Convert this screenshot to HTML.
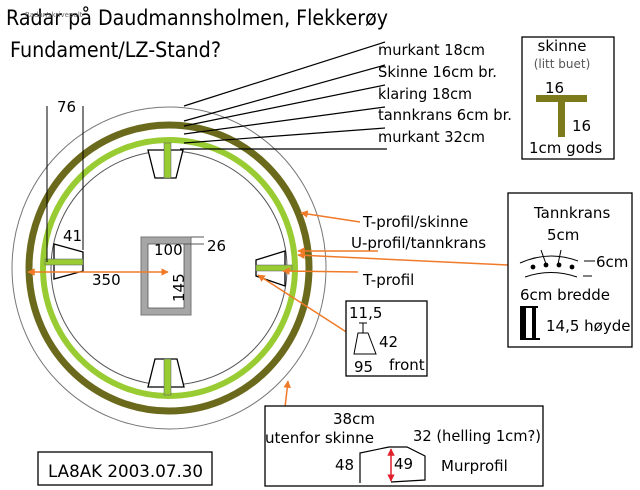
<!DOCTYPE html>
<html><head><meta charset="utf-8"><style>
html,body{margin:0;padding:0;background:#fff;}
svg{display:block;}
text{font-family:"DejaVu Sans","Liberation Sans",sans-serif;fill:#000;}
</style></head><body>
<svg width="640" height="490" viewBox="0 0 640 490" xmlns="http://www.w3.org/2000/svg">
<defs>
<marker id="ah" viewBox="0 0 10 10" refX="9" refY="5" markerWidth="5" markerHeight="5" orient="auto-start-reverse"><path d="M0,0 L10,5 L0,10z" fill="#f07a28"/></marker>
<marker id="rh" viewBox="0 0 10 10" refX="9" refY="5" markerWidth="5" markerHeight="5" orient="auto-start-reverse"><path d="M0,0 L10,5 L0,10z" fill="#e0202a"/></marker>
</defs>
<text x="6" y="25" font-size="21" textLength="382" lengthAdjust="spacingAndGlyphs">Radar på Daudmannsholmen, Flekkerøy</text>
<text x="25" y="17" font-size="7" style="fill:#666">Radar/skrivepult</text>
<text x="10" y="57" font-size="21" textLength="211" lengthAdjust="spacingAndGlyphs">Fundament/LZ-Stand?</text>

<ellipse cx="169" cy="268" rx="157" ry="161" fill="none" stroke="#777" stroke-width="1"/>
<ellipse cx="169" cy="268" rx="140" ry="143" fill="none" stroke="#6b6a1c" stroke-width="7"/>
<ellipse cx="169" cy="268" rx="126" ry="128" fill="none" stroke="#99cc33" stroke-width="6"/>
<ellipse cx="169" cy="268" rx="118" ry="117" fill="none" stroke="#555" stroke-width="1"/>

<polygon points="148,150 183,150 176,178 155,178" fill="#fff" stroke="#000" stroke-width="1.3"/>
<rect x="164" y="143" width="7" height="35" fill="#99cc33" stroke="#556" stroke-width="0.5"/>
<polygon points="155,359 177,359 184,387 148,387" fill="#fff" stroke="#000" stroke-width="1.3"/>
<rect x="164" y="359" width="7" height="36" fill="#99cc33" stroke="#556" stroke-width="0.5"/>
<polygon points="54,244 83,252 83,271 54,279" fill="#fff" stroke="#000" stroke-width="1.3"/>
<rect x="45" y="259" width="38" height="6" fill="#99cc33" stroke="#556" stroke-width="0.5"/>
<polygon points="256,260 285,251 285,286 256,276" fill="#fff" stroke="#000" stroke-width="1.3"/>
<rect x="256" y="265" width="36" height="6" fill="#99cc33" stroke="#556" stroke-width="0.5"/>

<rect x="141" y="237" width="50" height="78" fill="#a6a6a6" stroke="#777"/>
<rect x="148" y="244" width="36" height="64" fill="#fff" stroke="#555" stroke-width="0.8"/>
<line x1="191" y1="237" x2="204" y2="237" stroke="#555"/>
<line x1="184" y1="244" x2="204" y2="244" stroke="#555"/>
<text x="207" y="251" font-size="15">26</text>
<text x="154" y="255" font-size="15">100</text>
<text x="0" y="0" font-size="15" transform="translate(184,302) rotate(-90)">145</text>

<line x1="47" y1="106" x2="47" y2="262" stroke="#000"/>
<line x1="83" y1="106" x2="83" y2="250" stroke="#000"/>
<text x="57" y="112" font-size="15">76</text>
<text x="63" y="241" font-size="15">41</text>
<line x1="28" y1="272" x2="168" y2="272" stroke="#f07a28" stroke-width="1.5" marker-start="url(#ah)" marker-end="url(#ah)"/>
<text x="92" y="285" font-size="15">350</text>

<g stroke="#000" stroke-width="1.2">
<line x1="385" y1="42" x2="184" y2="106"/>
<line x1="385" y1="65" x2="184" y2="121"/>
<line x1="385" y1="85" x2="184" y2="126"/>
<line x1="385" y1="107" x2="184" y2="134"/>
<line x1="385" y1="128" x2="184" y2="143"/>
<line x1="180" y1="149" x2="387" y2="149"/>
</g>
<g font-size="15">
<text x="378" y="55" textLength="107" lengthAdjust="spacingAndGlyphs">murkant 18cm</text>
<text x="378" y="77" textLength="119" lengthAdjust="spacingAndGlyphs">Skinne 16cm br.</text>
<text x="378" y="99" textLength="94" lengthAdjust="spacingAndGlyphs">klaring 18cm</text>
<text x="378" y="120" textLength="134" lengthAdjust="spacingAndGlyphs">tannkrans 6cm br.</text>
<text x="378" y="142" textLength="107" lengthAdjust="spacingAndGlyphs">murkant 32cm</text>
</g>

<rect x="522" y="37" width="92" height="122" fill="#fff" stroke="#000" stroke-width="1.3"/>
<text x="562" y="51" font-size="15" text-anchor="middle">skinne</text>
<text x="562" y="68" font-size="12" text-anchor="middle" style="fill:#555">(litt buet)</text>
<rect x="536" y="95" width="51" height="7" fill="#7d7a1c"/>
<rect x="558" y="102" width="7" height="35" fill="#7d7a1c"/>
<text x="545" y="93" font-size="15">16</text>
<text x="572" y="131" font-size="15">16</text>
<text x="529" y="153" font-size="15">1cm gods</text>

<g font-size="15">
<text x="363" y="227">T-profil/skinne</text>
<text x="351" y="248">U-profil/tannkrans</text>
<text x="363" y="285">T-profil</text>
</g>
<g stroke="#f07a28" stroke-width="1.5" fill="none">
<line x1="360" y1="222" x2="301" y2="213" marker-end="url(#ah)"/>
<line x1="378" y1="251" x2="298" y2="251" marker-end="url(#ah)"/>
<line x1="508" y1="265" x2="298" y2="255" marker-end="url(#ah)"/>
<line x1="358" y1="272" x2="283" y2="271" marker-end="url(#ah)"/>
<line x1="365" y1="344" x2="258" y2="275" marker-end="url(#ah)"/>
<line x1="283" y1="425" x2="288" y2="381" marker-end="url(#ah)"/>
</g>

<rect x="508" y="193" width="124" height="154" fill="#fff" stroke="#000" stroke-width="1.3"/>
<text x="534" y="218" font-size="15">Tannkrans</text>
<text x="547" y="240" font-size="15">5cm</text>
<path d="M520,263 Q549,250 578,261" fill="none" stroke="#000"/>
<path d="M525,277 Q551,268 577,277" fill="none" stroke="#000"/>
<g fill="#000"><circle cx="533" cy="267" r="2.4"/><circle cx="546" cy="265" r="2.4"/><circle cx="559" cy="265" r="2.4"/><circle cx="572" cy="267" r="2.4"/></g>
<line x1="541" y1="250" x2="546" y2="264" stroke="#000"/>
<line x1="561" y1="250" x2="558" y2="264" stroke="#000"/>
<line x1="584" y1="261" x2="595" y2="261" stroke="#000"/>
<line x1="583" y1="276" x2="592" y2="276" stroke="#000"/>
<text x="596" y="267" font-size="15">6cm</text>
<text x="520" y="300" font-size="15">6cm bredde</text>
<rect x="520" y="306" width="6" height="34" fill="#000"/>
<rect x="532" y="306" width="4" height="34" fill="#000"/>
<line x1="520" y1="307" x2="538" y2="307" stroke="#000" stroke-width="2"/>
<line x1="520" y1="339" x2="540" y2="339" stroke="#000" stroke-width="2"/>
<text x="546" y="331" font-size="15">14,5 høyde</text>

<rect x="346" y="301" width="81" height="75" fill="#fff" stroke="#000" stroke-width="1.3"/>
<text x="349" y="318" font-size="15">11,5</text>
<line x1="363" y1="323" x2="363" y2="333" stroke="#000"/>
<line x1="359" y1="323" x2="367" y2="323" stroke="#000"/>
<polygon points="358,333 368,333 376,354 354,354" fill="#fff" stroke="#000"/>
<text x="379" y="347" font-size="15">42</text>
<text x="354" y="372" font-size="15">95</text>
<text x="389" y="370" font-size="15">front</text>

<rect x="265" y="406" width="278" height="80" fill="#fff" stroke="#000" stroke-width="1.3"/>
<text x="333" y="424" font-size="15">38cm</text>
<text x="265" y="443" font-size="15" textLength="109" lengthAdjust="spacingAndGlyphs">utenfor skinne</text>
<text x="413" y="441" font-size="15" textLength="128" lengthAdjust="spacingAndGlyphs">32 (helling 1cm?)</text>
<path d="M360,483 L360,453 L389,447 L407,447 L425,456 L425,480 L391,482" fill="none" stroke="#000" stroke-width="1.2"/>
<line x1="391" y1="449" x2="391" y2="481" stroke="#e0202a" stroke-width="1.5" marker-start="url(#rh)" marker-end="url(#rh)"/>
<text x="335" y="470" font-size="15">48</text>
<text x="394" y="469" font-size="15">49</text>
<text x="441" y="471" font-size="15">Murprofil</text>

<rect x="38" y="452" width="174" height="33" fill="#fff" stroke="#000" stroke-width="1.3"/>
<text x="48" y="477" font-size="17" textLength="155" lengthAdjust="spacingAndGlyphs">LA8AK 2003.07.30</text>
</svg>
</body></html>
